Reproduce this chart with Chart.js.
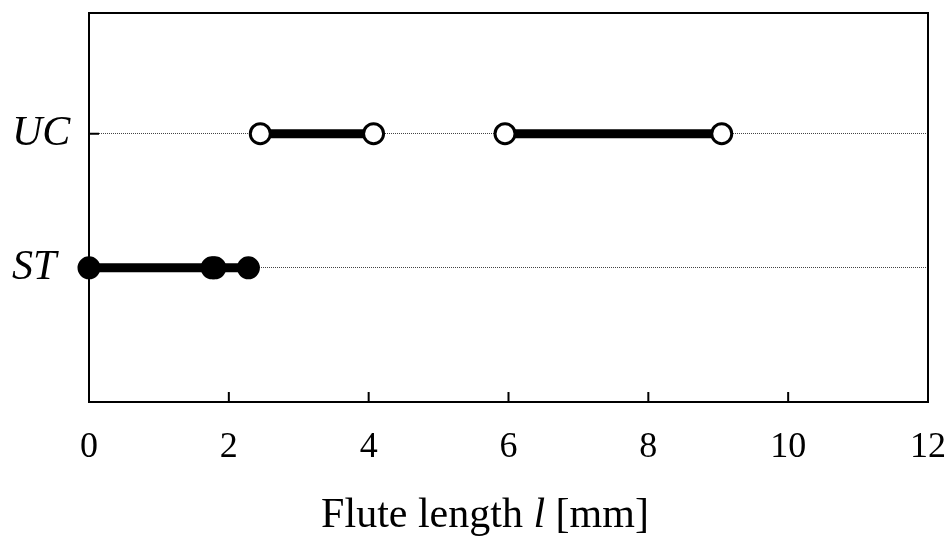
<!DOCTYPE html>
<html>
<head>
<meta charset="utf-8">
<script src="https://cdn.jsdelivr.net/npm/chart.js@4/dist/chart.umd.min.js"></script>
<style>
  html, body { margin: 0; padding: 0; background: #fff; }
  #wrap { width: 949px; height: 536px; }
</style>
</head>
<body>
<div id="wrap"><canvas id="flute"></canvas></div>
<script>
// categories on the y axis (value 1 = ST, 2 = UC)
const categories = ['ST', 'UC'];
const xTicks = [0, 2, 4, 6, 8, 10, 12];

// flute lengths [mm]
const stLengths = [0, 1.76, 1.80, 2.28];
const ucRangeA = [2.45, 4.07];
const ucRangeB = [5.95, 9.05];

const SERIF = "'Liberation Serif', 'Times New Roman', serif";

const toPoints = (xs, cat) => xs.map((x) => ({ x, y: categories.indexOf(cat) + 1 }));

const segment = (xs, cat, fill) => ({
  data: toPoints(xs, cat),
  showLine: true,
  borderColor: '#000',
  borderWidth: 9,
  pointRadius: 10,
  pointBorderWidth: 3,
  pointBorderColor: '#000',
  pointBackgroundColor: fill,
  clip: false
});

// frame, inward ticks and the x title with italic l
const extras = {
  id: 'extras',
  afterDraw(chart) {
    const { ctx, chartArea: a, scales } = chart;
    ctx.save();
    ctx.strokeStyle = '#000';
    ctx.lineWidth = 2;
    ctx.strokeRect(a.left, a.top, a.right - a.left, a.bottom - a.top);
    ctx.beginPath();
    xTicks.forEach((v) => {
      const px = scales.x.getPixelForValue(v);
      ctx.moveTo(px, a.bottom);
      ctx.lineTo(px, a.bottom - 10);
    });
    categories.forEach((c, i) => {
      const py = scales.y.getPixelForValue(i + 1);
      ctx.moveTo(a.left, py);
      ctx.lineTo(a.left + 10, py);
    });
    ctx.stroke();

    const parts = [
      { t: 'Flute length ', f: `42px ${SERIF}` },
      { t: 'l', f: `italic 42px ${SERIF}` },
      { t: ' [mm]', f: `42px ${SERIF}` }
    ];
    let total = 0;
    parts.forEach((p) => { ctx.font = p.f; p.w = ctx.measureText(p.t).width; total += p.w; });
    let x = 485 - total / 2;
    ctx.fillStyle = '#000';
    ctx.textBaseline = 'alphabetic';
    parts.forEach((p) => { ctx.font = p.f; ctx.fillText(p.t, x, 527); x += p.w; });
    ctx.restore();
  }
};

new Chart(document.getElementById('flute'), {
  type: 'scatter',
  data: {
    datasets: [
      segment(ucRangeA, 'UC', '#fff'),
      segment(ucRangeB, 'UC', '#fff'),
      segment(stLengths, 'ST', '#000')
    ]
  },
  options: {
    responsive: true,
    maintainAspectRatio: false,
    animation: false,
    events: [],
    layout: { padding: { left: 12, top: 9, right: 21, bottom: 0 } },
    plugins: { legend: { display: false }, tooltip: { enabled: false } },
    scales: {
      x: {
        type: 'linear',
        min: 0,
        max: 12,
        afterBuildTicks: (s) => { s.ticks = xTicks.map((v) => ({ value: v })); },
        afterFit: (s) => { s.height = 134; s.paddingLeft = 0; s.paddingRight = 0; },
        grid: { display: false, drawTicks: false },
        border: { display: false },
        ticks: { color: '#000', padding: 24, font: { family: SERIF, size: 36 } }
      },
      y: {
        type: 'linear',
        min: 0,
        max: 2.9,
        afterBuildTicks: (s) => { s.ticks = categories.map((c, i) => ({ value: i + 1 })); },
        afterFit: (s) => { s.width = 77; s.paddingTop = 0; s.paddingBottom = 0; },
        grid: { color: '#444', lineWidth: 1, drawTicks: false },
        border: { display: false, dash: [1, 1] },
        ticks: {
          color: '#000',
          crossAlign: 'far',
          padding: 0,
          font: { family: SERIF, size: 42, style: 'italic' },
          callback: (v) => categories[v - 1] || ''
        }
      }
    }
  },
  plugins: [extras]
});
</script>
</body>
</html>
